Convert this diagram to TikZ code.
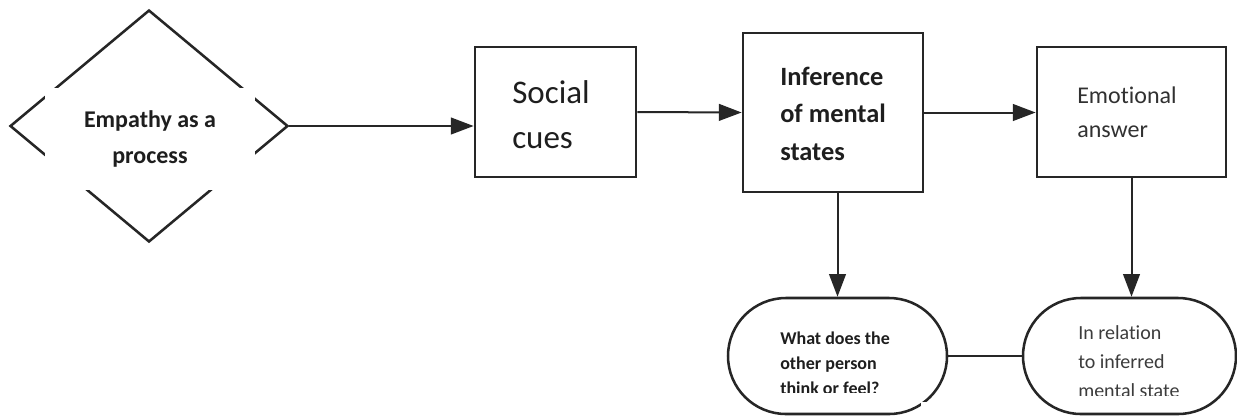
\documentclass[tikz,border=0pt]{standalone}
\usepackage{fontspec}
\setmainfont{Carlito}[Ligatures=NoCommon]
\usetikzlibrary{arrows.meta,shapes.geometric}
\definecolor{ink}{HTML}{262626}
\definecolor{txt}{HTML}{1E1E1E}
\tikzset{
  box/.style={draw=ink, line width=2.1pt, rectangle, inner sep=0pt, fill=white},
  pill/.style={draw=ink, line width=1.9pt, rectangle, rounded corners=43.5pt, inner sep=0pt, fill=white},
  link/.style={draw=ink, line width=1.5pt},
  flow/.style={link, -{Triangle[length=17pt,width=12.5pt]}},
  % multi-line labels are placed by the baseline of their last line
  label/.style={anchor=base west, inner sep=0pt, align=left, text=txt},
}
\begin{document}
\begin{tikzpicture}[x=0.75pt,y=-0.75pt]
  \useasboundingbox (0,0) rectangle (1237,415);
  \fill[white] (0,0) rectangle (1237,415);

  % start symbol: a diamond partly covered by its white text frame
  \node[diamond, draw=ink, line width=1.9pt, inner sep=0pt,
        minimum width=208.5pt, minimum height=174pt] (start) at (149,126) {};
  \fill[white] (45,88) rectangle (255,190);
  \node[label, anchor=base, align=center, font=\bfseries\fontsize{18pt}{27pt}\selectfont]
    (starttext) at (150,163) {Empathy as a\\process};

  % main chain of boxes
  \node[box, minimum width=120.75pt, minimum height=97.5pt] (cues) at (555.5,112) {};
  \node[label, font=\fontsize{24.75pt}{33.75pt}\selectfont] (cuestext) at (512,148) {Social\\cues};

  \node[box, minimum width=135pt, minimum height=119.25pt] (infer) at (833,112.5) {};
  \node[label, font=\bfseries\fontsize{19.8pt}{28pt}\selectfont] (infertext) at (780,160)
    {Inference\\of mental\\states};

  \node[box, minimum width=141.75pt, minimum height=97.5pt] (emo) at (1131.5,112) {};
  \node[label, font=\fontsize{18pt}{25.5pt}\selectfont, text=ink!95] (emotext) at (1077,137)
    {Emotional\\answer};

  % lower rounded boxes, running off the bottom edge
  \begin{scope}
    \clip (0,0) rectangle (1237,415);
    \node[pill, minimum width=164.25pt, minimum height=87pt] (think) at (837.5,356) {};
    \node[pill, minimum width=159.75pt, minimum height=87pt] (relate) at (1129.5,356) {};
    \fill[white] (921,402) rectangle (946,416);
    \fill[white] (1219,404) rectangle (1237,416);
  \end{scope}
  % their text frames are too short, so the last lines are cut
  \begin{scope}
    \clip (760,300) rectangle (940,392);
    \node[label, font=\bfseries\fontsize{13.5pt}{18.75pt}\selectfont] (thinktext) at (780,394)
      {What does the\\other person\\think or feel?};
  \end{scope}
  \begin{scope}
    \clip (1060,300) rectangle (1225,395);
    \node[label, font=\fontsize{15pt}{21.75pt}\selectfont, text=ink!90] (relatetext) at (1078,397)
      {In relation\\to inferred\\mental state};
  \end{scope}

  % connectors
  \draw[flow] (start.east) -- (start.east -| cues.west);
  \draw[flow] (cues.east) -- (infer.west);
  \draw[flow] (infer.east) -- (infer.east -| emo.west);
  \draw[flow] (infer.south -| think.north) -- (think.north);
  \draw[flow] (emo.south) -- (emo.south |- relate.north);
  \draw[link] (think.east) -- (relate.west);
\end{tikzpicture}
\end{document}
